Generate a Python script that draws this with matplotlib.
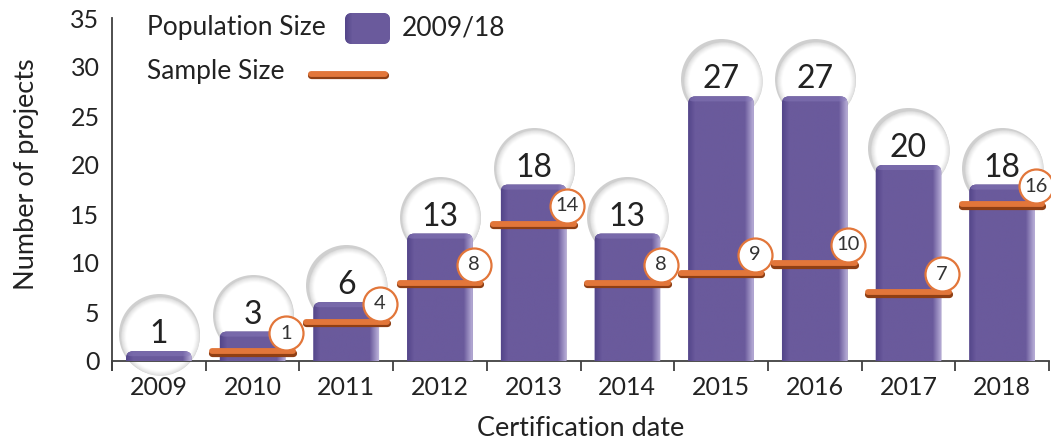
import numpy as np
import matplotlib
matplotlib.use("Agg")
import matplotlib.pyplot as plt
from matplotlib.patches import FancyBboxPatch
from matplotlib.transforms import offset_copy, IdentityTransform
from matplotlib.colors import to_rgb

# Data
years = ["2009", "2010", "2011", "2012", "2013", "2014", "2015", "2016", "2017", "2018"]
population = [1, 3, 6, 13, 18, 13, 27, 27, 20, 18]
sample = [None, 1, 4, 8, 14, 8, 9, 10, 7, 16]
y_ticks = [0, 5, 10, 15, 20, 25, 30, 35]

FONT = "Lato"
plt.rcParams["font.family"] = [FONT, "DejaVu Sans"]

W, H, DPI = 1051, 441, 100
fig = plt.figure(figsize=(W / DPI, H / DPI), dpi=DPI)
ax = fig.add_axes([112 / W, 1 - 361 / H, (1049 - 112) / W, (361 - 18) / H])

x = np.arange(len(years))
ax.set_xlim(-0.5, len(years) - 0.5)
ax.set_ylim(0, 35)

PURPLE = "#6a5a9c"
ORANGE = "#e2763a"
ORANGE_DARK = "#8f3f14"
TEXT = "#222222"

# spines and ticks
for s in ["top", "right"]:
    ax.spines[s].set_visible(False)
for s in ["left", "bottom"]:
    ax.spines[s].set_color("#404040")
    ax.spines[s].set_linewidth(1.3)
ax.spines["left"].set_bounds(-0.9, 35)

ax.set_yticks(y_ticks)
ax.set_yticklabels([str(v) for v in y_ticks], fontsize=18, color=TEXT)
ax.tick_params(axis="y", length=0, pad=9)
ax.set_xticks(x)
ax.set_xticklabels(years, fontsize=18, color=TEXT)
ax.set_xticks(np.arange(-0.5, len(years)), minor=True)
ax.tick_params(axis="x", which="major", length=0, pad=11)
ax.tick_params(axis="x", which="minor", length=7.5, width=1.3, color="#404040", direction="out")

ax.set_ylabel("Number of projects", fontsize=19.5, color=TEXT, va="center")
ax.yaxis.set_label_coords((27 - 112) / 937, (361 - 174) / 343)
ax.set_xlabel("Certification date", fontsize=19.5, color=TEXT, va="center")
ax.xaxis.set_label_coords(0.5, (361 - 428) / 343)

# pixel scale of the data axes
fig.canvas.draw()
p0 = ax.transData.transform((0, 0))
p1 = ax.transData.transform((1, 1))
px_x = p1[0] - p0[0]
px_y = p1[1] - p0[1]


def lerp(c1, c2, t):
    a, b = np.array(to_rgb(c1)), np.array(to_rgb(c2))
    return tuple(a + (b - a) * t)


# bubbles behind the population bars
bubble_tr = offset_copy(ax.transData, fig=fig, x=0, y=17, units="dots")
shade_tr = offset_copy(ax.transData, fig=fig, x=1.5, y=15.5, units="dots")
BUBBLE_D = 81 * 72 / DPI
n_layers = 14
for xi, v in zip(x, population):
    ax.plot([xi], [v], marker="o", ms=BUBBLE_D, mfc="#cfcfcf", mec="none",
            transform=bubble_tr, zorder=2, clip_on=False)
    for i in range(n_layers):
        t = i / (n_layers - 1)
        d = BUBBLE_D * (0.97 - 0.2 * t ** 1.3)
        col = lerp("#dadada", "#ffffff", min(1, t * 1.5))
        ax.plot([xi], [v], marker="o", ms=d, mfc=col, mec="none",
                transform=shade_tr, zorder=2, clip_on=False)
    ax.text(xi, v, str(v), transform=bubble_tr, ha="center", va="center",
            fontsize=23, color=TEXT, zorder=6)

# population bars with rounded tops and shaded sides
bars = ax.bar(x, population, width=0.7, color=PURPLE, zorder=3)
rx = 7 / px_x
ry = 7 / px_y
grad_cols = np.array([lerp("#54468a", PURPLE, t) for t in np.linspace(0, 1, 8)]
                     + [to_rgb(PURPLE)] * 50
                     + [lerp(PURPLE, "#b9afd8", t) for t in np.linspace(0, 1, 10)])
grad = grad_cols[np.newaxis, :, :]
for b in bars:
    b.set_visible(False)
    x0, w, h = b.get_x(), b.get_width(), b.get_height()
    patch = FancyBboxPatch((x0, -ry), w, h + ry,
                           boxstyle=f"round,pad=0,rounding_size={rx}",
                           mutation_aspect=ry / rx, fc=PURPLE, ec="none", zorder=3)
    ax.add_patch(patch)
    im = ax.imshow(grad, extent=(x0, x0 + w, -ry, h), aspect="auto",
                   interpolation="bilinear", zorder=3.1)
    im.set_clip_path(patch)
    # lighter band along the top edge
    top = FancyBboxPatch((x0, h - 5 / px_y), w, 5 / px_y,
                         boxstyle=f"round,pad=0,rounding_size={rx * 0.7}",
                         mutation_aspect=ry / rx, fc="#8a7cbc", ec="none",
                         alpha=0.45, zorder=3.2)
    ax.add_patch(top)
    top.set_clip_path(patch)

ax.set_xlim(-0.5, len(years) - 0.5)
ax.set_ylim(0, 35)

# sample size markers
shadow_tr = offset_copy(ax.transData, fig=fig, x=0, y=-1.5, units="dots")
badge_tr = offset_copy(ax.transData, fig=fig, x=0, y=18, units="dots")
for xi, s in zip(x, sample):
    if s is None:
        continue
    xs = [xi - 0.43, xi + 0.43]
    ax.plot(xs, [s, s], color=ORANGE_DARK, lw=5.2, solid_capstyle="round",
            transform=shadow_tr, zorder=4, clip_on=False)
    ax.plot(xs, [s, s], color=ORANGE, lw=4.2, solid_capstyle="round",
            zorder=4.1, clip_on=False)
    ax.plot([xi + 0.36], [s], marker="o", ms=34 * 72 / DPI, mfc="white",
            mec=ORANGE, mew=1.6, transform=badge_tr, zorder=7, clip_on=False)
    ax.text(xi + 0.36, s, str(s), transform=badge_tr, ha="center", va="center",
            fontsize=14.5, color="#333333", zorder=8, clip_on=False)

# legend drawn in pixel space
pix = IdentityTransform()
fig.text(147, H - 28, "Population Size", transform=pix, fontsize=19,
         color=TEXT, va="center", ha="left")
fig.text(402, H - 28, "2009/18", transform=pix, fontsize=19,
         color=TEXT, va="center", ha="left")
fig.text(147, H - 71, "Sample Size", transform=pix, fontsize=19,
         color=TEXT, va="center", ha="left")
swatch = FancyBboxPatch((345, H - 44), 45, 31,
                        boxstyle="round,pad=0,rounding_size=7",
                        fc=PURPLE, ec="none", transform=pix, zorder=5)
fig.patches.append(swatch)
sw_im = fig.figimage(np.repeat(grad, 31, axis=0), xo=345, yo=H - 44, zorder=5.1)
sw_im.set_clip_path(swatch)
fig.add_artist(plt.Line2D([311, 385], [H - 75, H - 75], color=ORANGE_DARK,
                          lw=5.2, solid_capstyle="round", transform=pix))
fig.add_artist(plt.Line2D([311, 385], [H - 73.5, H - 73.5], color=ORANGE,
                          lw=4.2, solid_capstyle="round", transform=pix))

fig.savefig("out.png", dpi=DPI)
